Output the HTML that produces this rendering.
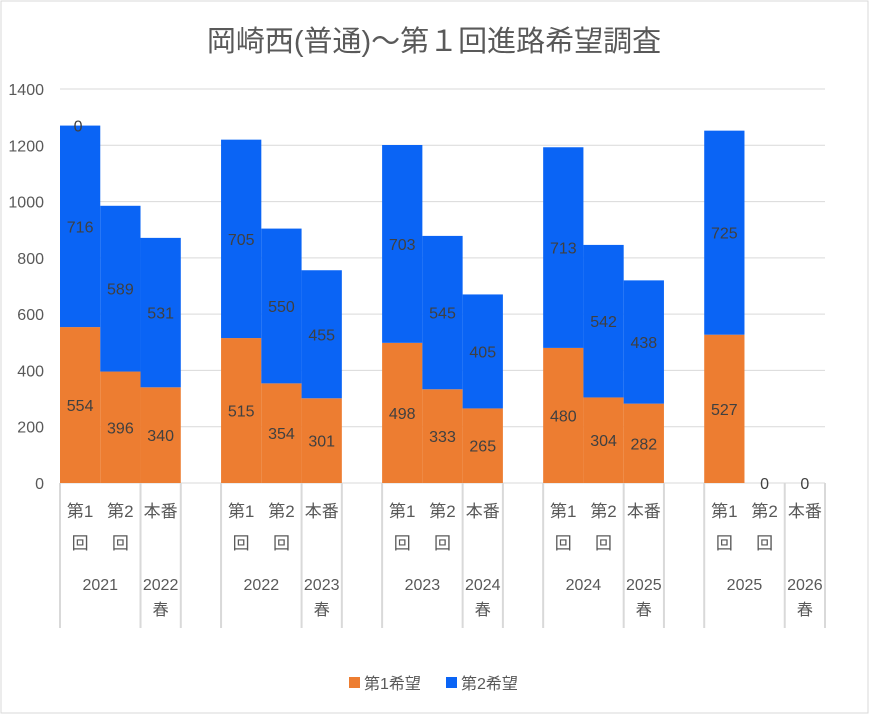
<!DOCTYPE html>
<html><head><meta charset="utf-8"><style>
body{margin:0;background:#fff;}
svg text{font-family:"Liberation Sans","Noto Sans CJK JP",sans-serif;}
</style></head><body>
<svg id="c" width="869" height="714">
<rect x="1" y="1" width="867" height="712" fill="#fff" stroke="#d9d9d9"/>
<text x="434" y="51" text-anchor="middle" font-size="29" fill="#595959">岡崎西(普通)～第１回進路希望調査</text>
<g id="grid"></g><g id="bars"></g><g id="labels"></g><g id="axis"></g>
<g>
<rect x="349" y="677" width="11" height="11" fill="#ed7d31"/>
<text x="364" y="689" font-size="16" fill="#595959">第1希望</text>
<rect x="446" y="677" width="11" height="11" fill="#0a64f5"/>
<text x="461" y="689" font-size="16" fill="#595959">第2希望</text>
</g>
</svg>
<script>
const years=["2021","2022","2023","2024","2025"];
const finals=["2022\n春","2023\n春","2024\n春","2025\n春","2026\n春"];
const first=[[554,396,340],[515,354,301],[498,333,265],[480,304,282],[527,0,0]];
const second=[[716,589,531],[705,550,455],[703,545,405],[713,542,438],[725,0,0]];
const yTicks=[0,200,400,600,800,1000,1200,1400];
const subs=["第1\n回","第2\n回","本番"];
const NS="http://www.w3.org/2000/svg";
const X0=60,X1=825,Y0=483,Y1=89,slot=(X1-X0)/19;
const y=v=>Y0-(v/1400)*(Y0-Y1);
const sx=i=>X0+i*slot;
function mk(p,t,a,txt){const e=document.createElementNS(NS,t);for(const k in a)e.setAttribute(k,a[k]);if(txt!=null)e.textContent=txt;document.getElementById(p).appendChild(e);return e;}
yTicks.forEach(v=>{
 const l=mk('grid','line',{x1:X0,x2:X1,y1:y(v),y2:y(v),stroke:'#d9d9d9','stroke-width':1});
 
 
 const t=mk('grid','text',{x:44,y:y(v)+6,'text-anchor':'end','font-size':16,fill:'#595959'},v);
 
 
});
years.forEach((yr,g)=>{
 for(let b=0;b<3;b++){
  const s=g*4+b,x=sx(s),w=slot,f=first[g][b],sc=second[g][b];
  const r1=mk('bars','rect',{x:x,y:y(f),width:w,height:Y0-y(f),fill:'#ed7d31'});
  
  
  const r2=mk('bars','rect',{x:x,y:y(f+sc),width:w,height:y(f)-y(f+sc),fill:'#0a64f5'});
  
  
  const cx=x+w/2;
  if(f>0){
   const t=mk('labels','text',{x:cx,y:(y(f)+Y0)/2+6,'text-anchor':'middle','font-size':16,fill:'#404040'},f);
   
   
   const t2=mk('labels','text',{x:cx,y:(y(f)+y(f+sc))/2+6,'text-anchor':'middle','font-size':16,fill:'#404040'},sc);
   
   
  } else {
   const t=mk('labels','text',{x:cx,y:Y0+6,'text-anchor':'middle','font-size':16,fill:'#404040'},'0');
   
   
  }
  const lines=subs[b].split("\n");
  lines.forEach((ln,i)=>{
   const t=mk('axis','text',{x:cx,y:517+i*32,'text-anchor':'middle','font-size':17,fill:'#595959'},ln);
   
   
  });
 }
 const t=mk('axis','text',{x:sx(g*4+1),y:590,'text-anchor':'middle','font-size':16,fill:'#595959'},yr);
 
 
 finals[g].split("\n").forEach((ln,i)=>{
  const t2=mk('axis','text',{x:sx(g*4+2.5),y:590+i*25,'text-anchor':'middle','font-size':16,fill:'#595959'},ln);
  
  
 });
 [g*4,g*4+2,g*4+3].forEach(s=>{
  const l=mk('axis','line',{x1:sx(s),x2:sx(s),y1:Y0,y2:628,stroke:'#d9d9d9','stroke-width':2});
  
  
 });
});
const t0=mk('labels','text',{x:sx(0.5)-2,y:y(first[0][0]+second[0][0])+6,'text-anchor':'middle','font-size':16,fill:'#404040'},'0');


</script>
</body></html>
